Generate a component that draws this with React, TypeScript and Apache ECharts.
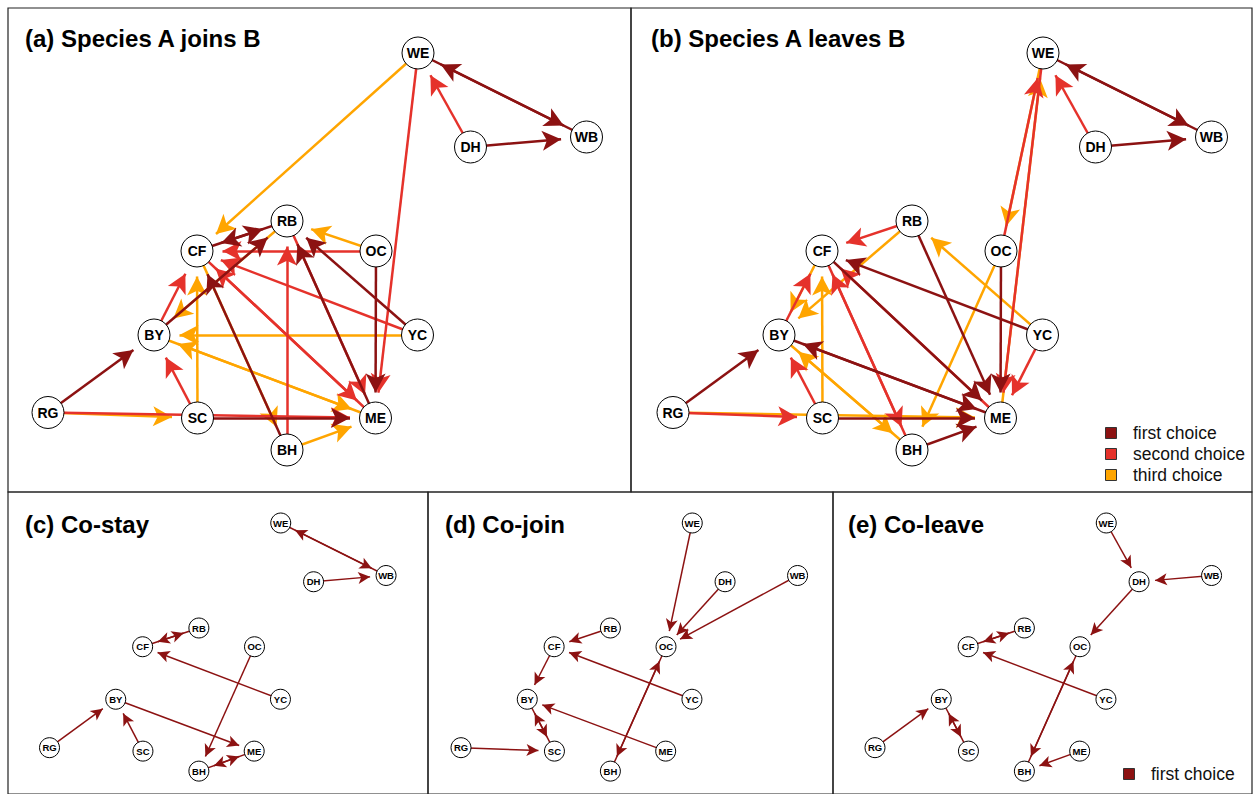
import React, { useEffect, useRef } from "react";
import * as echarts from "echarts";

// ---- data ----
const nodeNames = ["WE", "WB", "DH", "RB", "CF", "OC", "BY", "YC", "RG", "SC", "ME", "BH"];
const nodeX = [370, 538.5, 422.5, 239, 149, 328, 106, 369.5, 0, 149.5, 327.5, 239];
const nodeY = [0, 84, 94, 168, 198, 198, 282, 282, 359.5, 365, 365, 397];

type Edge = [string, string, number];

const edgesJoins: Edge[] = [
  ["WE", "WB", 1], ["WE", "ME", 2], ["WE", "CF", 3],
  ["WB", "WE", 1],
  ["DH", "WB", 1], ["DH", "WE", 2],
  ["RB", "CF", 1], ["RB", "ME", 2], ["RB", "BY", 3],
  ["CF", "RB", 1], ["CF", "ME", 2], ["CF", "BH", 3],
  ["BY", "RB", 1], ["BY", "CF", 2], ["BY", "ME", 3],
  ["SC", "ME", 1], ["SC", "BY", 2], ["SC", "CF", 3],
  ["RG", "BY", 1], ["RG", "ME", 2], ["RG", "SC", 3],
  ["YC", "RB", 1], ["YC", "CF", 2], ["YC", "BY", 3],
  ["OC", "ME", 1], ["OC", "CF", 2], ["OC", "RB", 3],
  ["BH", "CF", 1], ["BH", "RB", 2], ["BH", "ME", 3],
  ["ME", "RB", 1], ["ME", "CF", 2], ["ME", "BY", 3],
];

const edgesLeaves: Edge[] = [
  ["WE", "WB", 1], ["WE", "ME", 2], ["WE", "OC", 3],
  ["WB", "WE", 1],
  ["DH", "WB", 1], ["DH", "WE", 2],
  ["RB", "ME", 1], ["RB", "CF", 2], ["RB", "BY", 3],
  ["CF", "ME", 1], ["CF", "BH", 2], ["CF", "BY", 3],
  ["BY", "ME", 1], ["BY", "CF", 2], ["BY", "BH", 3],
  ["SC", "ME", 1], ["SC", "BY", 2], ["SC", "CF", 3],
  ["RG", "BY", 1], ["RG", "SC", 2], ["RG", "ME", 3],
  ["YC", "CF", 1], ["YC", "ME", 2], ["YC", "RB", 3],
  ["OC", "ME", 1], ["OC", "WE", 2], ["OC", "BH", 3],
  ["BH", "ME", 1], ["BH", "CF", 2], ["BH", "BY", 3],
  ["ME", "BY", 1], ["ME", "CF", 2], ["ME", "WE", 3],
];

const edgesCoStay: Edge[] = [
  ["WE", "WB", 1], ["WB", "WE", 1], ["DH", "WB", 1], ["CF", "RB", 1],
  ["RB", "CF", 1], ["YC", "CF", 1], ["OC", "BH", 1], ["BY", "ME", 1],
  ["ME", "BH", 1], ["BH", "ME", 1], ["RG", "BY", 1], ["SC", "BY", 1],
];

const edgesCoJoin: Edge[] = [
  ["WE", "OC", 1], ["DH", "OC", 1], ["WB", "OC", 1], ["RB", "CF", 1],
  ["YC", "CF", 1], ["CF", "BY", 1], ["BY", "SC", 1], ["SC", "BY", 1],
  ["RG", "SC", 1], ["ME", "BY", 1], ["OC", "BH", 1], ["BH", "OC", 1],
];

const edgesCoLeave: Edge[] = [
  ["WE", "DH", 1], ["WB", "DH", 1], ["DH", "OC", 1], ["CF", "RB", 1],
  ["RB", "CF", 1], ["YC", "CF", 1], ["RG", "BY", 1], ["BY", "SC", 1],
  ["SC", "BY", 1], ["OC", "BH", 1], ["BH", "OC", 1], ["ME", "BH", 1],
];

const choiceLabels = ["first choice", "second choice", "third choice"];
const choiceColors = ["#8C1212", "#E5322B", "#FFA500"];

const panelTitles = [
  "(a) Species A joins B",
  "(b) Species A leaves B",
  "(c) Co-stay",
  "(d) Co-join",
  "(e) Co-leave",
];

// ---- layout (positions / styles) ----
const LAYOUT_W = 538.5;
const LAYOUT_H = 397;

const panels = [
  { edges: edgesJoins, left: 48, top: 53, scale: 1, big: true, tx: 25, ty: 38, frame: [8, 8, 623, 484] },
  { edges: edgesLeaves, left: 673, top: 53, scale: 1, big: true, tx: 651, ty: 38, frame: [631, 8, 621, 484] },
  { edges: edgesCoStay, left: 49.5, top: 523, scale: 0.625, big: false, tx: 25, ty: 524, frame: [8, 492, 420, 302] },
  { edges: edgesCoJoin, left: 461, top: 523, scale: 0.625, big: false, tx: 445, ty: 524, frame: [428, 492, 405, 302] },
  { edges: edgesCoLeave, left: 875, top: 523, scale: 0.625, big: false, tx: 848, ty: 524, frame: [833, 492, 419, 302] },
];

const FONT = "'Liberation Sans', Arial, Helvetica, sans-serif";

export default function App() {
  const ref = useRef<HTMLDivElement | null>(null);

  useEffect(() => {
    if (!ref.current) return;
    const chart = echarts.init(ref.current, null, { renderer: "svg" });

    const grid: any[] = [];
    const xAxis: any[] = [];
    const yAxis: any[] = [];
    const series: any[] = [];
    const graphic: any[] = [];

    panels.forEach((p, i) => {
      const r = p.big ? 16 : 10;
      const arrowH = p.big ? 19 : 12;
      const arrowW = p.big ? 15 : 9;
      const lw = p.big ? 2.5 : 1.5;
      grid.push({ left: p.left, top: p.top, width: LAYOUT_W * p.scale, height: LAYOUT_H * p.scale, containLabel: false });
      xAxis.push({ type: "value", gridIndex: i, min: 0, max: LAYOUT_W, show: false });
      yAxis.push({ type: "value", gridIndex: i, min: 0, max: LAYOUT_H, inverse: true, show: false });

      const nodes = nodeNames.map((n, k) => ({ name: n, value: [nodeX[k], nodeY[k]] }));
      const sorted = [...p.edges].sort((a, b) => b[2] - a[2]);

      series.push({
        type: "graph",
        coordinateSystem: "cartesian2d",
        xAxisIndex: i,
        yAxisIndex: i,
        layout: "none",
        silent: true,
        z: 2,
        symbol: "circle",
        symbolSize: 2 * r + arrowH,
        itemStyle: { opacity: 0 },
        label: { show: false },
        emphasis: { disabled: true },
        edgeSymbol: ["none", "arrow"],
        edgeSymbolSize: [0, [arrowW, arrowH]],
        lineStyle: { width: lw, opacity: 1, curveness: 0 },
        data: nodes,
        links: sorted.map(([s, t, c]) => ({
          source: s,
          target: t,
          lineStyle: { color: choiceColors[c - 1], width: lw, opacity: 1, curveness: 0 },
        })),
      });

      series.push({
        type: "scatter",
        xAxisIndex: i,
        yAxisIndex: i,
        silent: true,
        z: 5,
        symbol: "circle",
        symbolSize: 2 * r,
        itemStyle: { color: "#ffffff", borderColor: "#000000", borderWidth: 1, opacity: 1 },
        label: {
          show: true,
          position: "inside",
          formatter: "{b}",
          color: "#000",
          fontWeight: "bold",
          fontSize: p.big ? 14 : 9.5,
          fontFamily: FONT,
        },
        emphasis: { disabled: true },
        data: nodes,
      });

      graphic.push({
        type: "rect",
        shape: { x: p.frame[0], y: p.frame[1], width: p.frame[2], height: p.frame[3] },
        style: { fill: "none", stroke: "#222", lineWidth: 1.2 },
        silent: true,
      });
      graphic.push({
        type: "text",
        x: p.tx,
        y: p.ty,
        style: {
          text: panelTitles[i],
          fontFamily: FONT,
          fontWeight: "bold",
          fontSize: 24,
          fill: "#000",
          textVerticalAlign: "middle",
          verticalAlign: "middle",
        },
        silent: true,
      });
    });

    // legend panel b
    const legendB = { x: 1111, y: 433, step: 21 };
    choiceLabels.forEach((lab, k) => {
      graphic.push({
        type: "rect",
        shape: { x: legendB.x - 5.5, y: legendB.y + k * legendB.step - 5.5, width: 11, height: 11 },
        style: { fill: choiceColors[k], stroke: "#333", lineWidth: 1 },
        silent: true,
      });
      graphic.push({
        type: "text",
        x: legendB.x + 22,
        y: legendB.y + k * legendB.step,
        style: { text: lab, fontFamily: FONT, fontSize: 17.5, fill: "#111", verticalAlign: "middle", textVerticalAlign: "middle" },
        silent: true,
      });
    });
    // legend panel e
    graphic.push({
      type: "rect",
      shape: { x: 1129 - 5.5, y: 774 - 5.5, width: 11, height: 11 },
      style: { fill: choiceColors[0], stroke: "#333", lineWidth: 1 },
      silent: true,
    });
    graphic.push({
      type: "text",
      x: 1151,
      y: 774,
      style: { text: choiceLabels[0], fontFamily: FONT, fontSize: 17.5, fill: "#111", verticalAlign: "middle", textVerticalAlign: "middle" },
      silent: true,
    });

    chart.setOption({
      animation: false,
      backgroundColor: "#ffffff",
      grid,
      xAxis,
      yAxis,
      series,
      graphic,
    });

    return () => chart.dispose();
  }, []);

  return (
    <div
      ref={ref}
      style={{ position: "absolute", left: 0, top: 0, width: 1253, height: 794, background: "#fff" }}
    />
  );
}
